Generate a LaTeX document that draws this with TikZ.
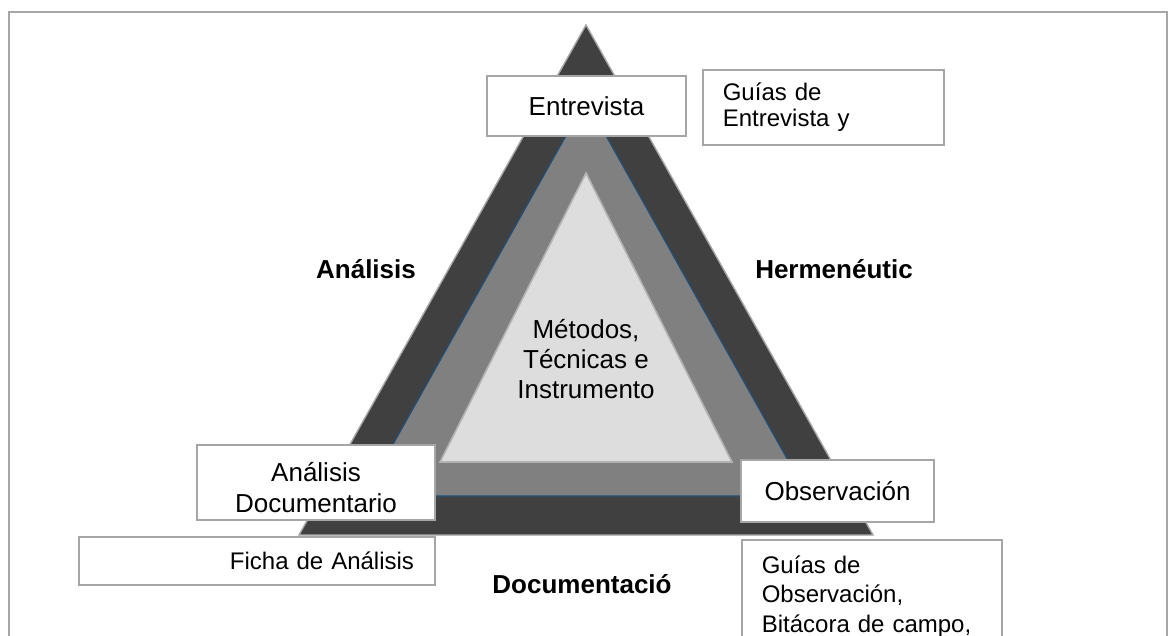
\documentclass[tikz,border=0pt]{standalone}
\usepackage{fontspec}
\setmainfont{Liberation Sans}
\usetikzlibrary{positioning}
\definecolor{tdark}{RGB}{64,64,64}
\definecolor{tmid}{RGB}{128,128,128}
\definecolor{tlight}{RGB}{221,221,221}
\definecolor{tblue}{RGB}{31,78,121}
\definecolor{bline}{RGB}{166,166,166}

\begin{document}
\begin{tikzpicture}[x=0.5pt,y=-0.5pt,
    font=\fontsize{13}{14.5}\selectfont,
    box/.style={rectangle,draw=bline,line width=0.8pt,fill=white,inner sep=0pt,align=center},
    note/.style={rectangle,draw=bline,line width=0.8pt,fill=white,inner xsep=10pt,align=left,
                 font=\fontsize{12}{13}\selectfont},
    lbl/.style={font=\fontsize{13}{14.5}\selectfont\bfseries}]
  \useasboundingbox (0,0) rectangle (1176,636);
  \clip (0,0) rectangle (1176,636);
  \draw[bline,line width=0.8pt] (9,12) rectangle (1167,700);
  % triangles
  \coordinate (oT) at (586,25);  \coordinate (oL) at (299,535); \coordinate (oR) at (873,535);
  \coordinate (mT) at (586,100); \coordinate (mL) at (364,496); \coordinate (mR) at (808,496);
  \coordinate (iT) at (586,173); \coordinate (iL) at (440,462); \coordinate (iR) at (732,462);
  \filldraw[fill=tdark,draw=bline,line width=0.7pt] (oL) -- (oR) -- (oT) -- cycle;
  \filldraw[fill=tmid,draw=tblue,line width=0.6pt] (mL) -- (mR) -- (mT) -- cycle;
  \filldraw[fill=tlight,draw=gray!60,line width=0.8pt] (iL) -- (iR) -- (iT) -- cycle;
  \node[align=center,font=\fontsize{13}{15}\selectfont] (core) at (586,359) {Métodos,\\Técnicas e\\Instrumento};
  % labels
  \node[lbl] (lana)  at (366,269) {Análisis};
  \node[lbl] (lherm) at (834,269) {Hermenéutic};
  \node[lbl] (ldoc)  at (582,584) {Documentació};
  % boxes
  \node[box,minimum width=99.5pt,minimum height=30pt] (entr) at (586.5,106) {Entrevista};
  \node[note,anchor=north west,text width=100.5pt,minimum height=37.5pt] (entrg) at (702,69) {Guías de\\Entrevista y};
  \node[box,minimum width=119pt,minimum height=37.5pt,
        label={[align=center,yshift=-2.5pt,font=\fontsize{13}{15.5}\selectfont]center:Análisis\\Documentario}] (adoc) at (316,482.5) {};
  \node[box,align=right,inner xsep=10.5pt,text width=157pt,minimum height=24pt,
        font=\fontsize{12}{13}\selectfont] (ficha) at (257,561) {Ficha de Análisis};
  \node[box,minimum width=96.5pt,minimum height=31pt] (obs) at (837.5,491) {Observación};
  \node[note,anchor=north west,text width=110pt,inner ysep=8pt,font=\fontsize{12}{14.75}\selectfont] (obsg) at (741,539)
       {Guías de\\Observación,\\Bitácora de campo,\\\strut};
\end{tikzpicture}
\end{document}
